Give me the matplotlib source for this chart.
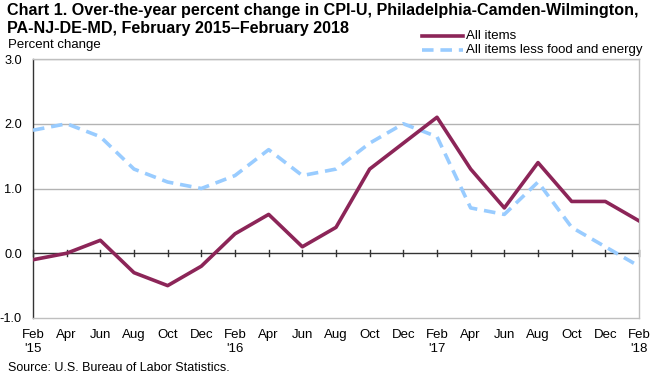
import matplotlib
matplotlib.use("Agg")
import matplotlib.pyplot as plt

plt.rcParams['font.family'] = ['Liberation Sans', 'DejaVu Sans']

months = ["Feb", "Apr", "Jun", "Aug", "Oct", "Dec",
          "Feb", "Apr", "Jun", "Aug", "Oct", "Dec",
          "Feb", "Apr", "Jun", "Aug", "Oct", "Dec", "Feb"]
years = ["'15", "", "", "", "", "", "'16", "", "", "", "", "",
         "'17", "", "", "", "", "", "'18"]
all_items = [-0.1, 0.0, 0.2, -0.3, -0.5, -0.2, 0.3, 0.6, 0.1, 0.4, 1.3, 1.7,
             2.1, 1.3, 0.7, 1.4, 0.8, 0.8, 0.5]
core = [1.9, 2.0, 1.8, 1.3, 1.1, 1.0, 1.2, 1.6, 1.2, 1.3, 1.7, 2.0,
        1.8, 0.7, 0.6, 1.1, 0.4, 0.1, -0.2]
yticks = [-1.0, 0.0, 1.0, 2.0, 3.0]

fig = plt.figure(figsize=(6.5, 3.75), dpi=100)
ax = fig.add_axes([33/650, 1-318/375, 606/650, 259/375])

x = list(range(len(months)))
ax.set_xlim(0, len(months) - 1)
ax.set_ylim(-1.0, 3.0)

for yv in [1.0, 2.0, 3.0]:
    ax.axhline(yv, color="#b3b3b3", lw=1.0, zorder=1)
ax.axhline(0, color="#333333", lw=1.0, zorder=2)
for xi in x:
    ax.plot([xi, xi], [-0.05, 0.05], color="#333333", lw=1.0, zorder=2, clip_on=False)

ax.plot(x, core, color="#99ccff", lw=2.6, dashes=(3.2, 1.9), zorder=3,
        label="All items less food and energy")
ax.plot(x, all_items, color="#8c2558", lw=2.6, zorder=4, label="All items")

for s in ["top", "right", "bottom"]:
    ax.spines[s].set_color("#bfbfbf")
    ax.spines[s].set_linewidth(1.0)
ax.spines["left"].set_color("#333333")
ax.spines["left"].set_linewidth(1.0)

ax.set_yticks(yticks)
ax.set_yticklabels([f"{v:.1f}" for v in yticks], fontsize=9.2)
ax.tick_params(axis="y", length=0, pad=8)
ax.set_xticks(x)
ax.set_xticklabels([m + ("\n" + y if y else "\n") for m, y in zip(months, years)],
                   fontsize=9.5, linespacing=1.25)
ax.tick_params(axis="x", length=0, pad=8)

fig.text(7/650, 1-10/375,
         "Chart 1. Over-the-year percent change in CPI-U, Philadelphia-Camden-Wilmington,",
         fontsize=11.6, fontweight="bold", va="center", ha="left")
fig.text(7/650, 1-28/375, "PA-NJ-DE-MD, February 2015\u2013February 2018",
         fontsize=11.6, fontweight="bold", va="center", ha="left")
fig.text(8/650, 1-45/375, "Percent change", fontsize=9.5, va="center", ha="left")
fig.text(8/650, 1-368/375, "Source: U.S. Bureau of Labor Statistics.", fontsize=9, va="center", ha="left")

# legend
fig.lines.append(plt.Line2D([422/650, 463/650], [1-36/375, 1-36/375], color="#8c2558", lw=2.6,
                            transform=fig.transFigure))
fig.lines.append(plt.Line2D([422/650, 463/650], [1-50/375, 1-50/375], color="#99ccff", lw=2.6,
                            dashes=(3.2, 1.9), transform=fig.transFigure))
fig.text(466/650, 1-36/375, "All items", fontsize=9.5, va="center", ha="left")
fig.text(466/650, 1-50/375, "All items less food and energy", fontsize=9.5, va="center", ha="left")

fig.savefig("out.png", dpi=100)
